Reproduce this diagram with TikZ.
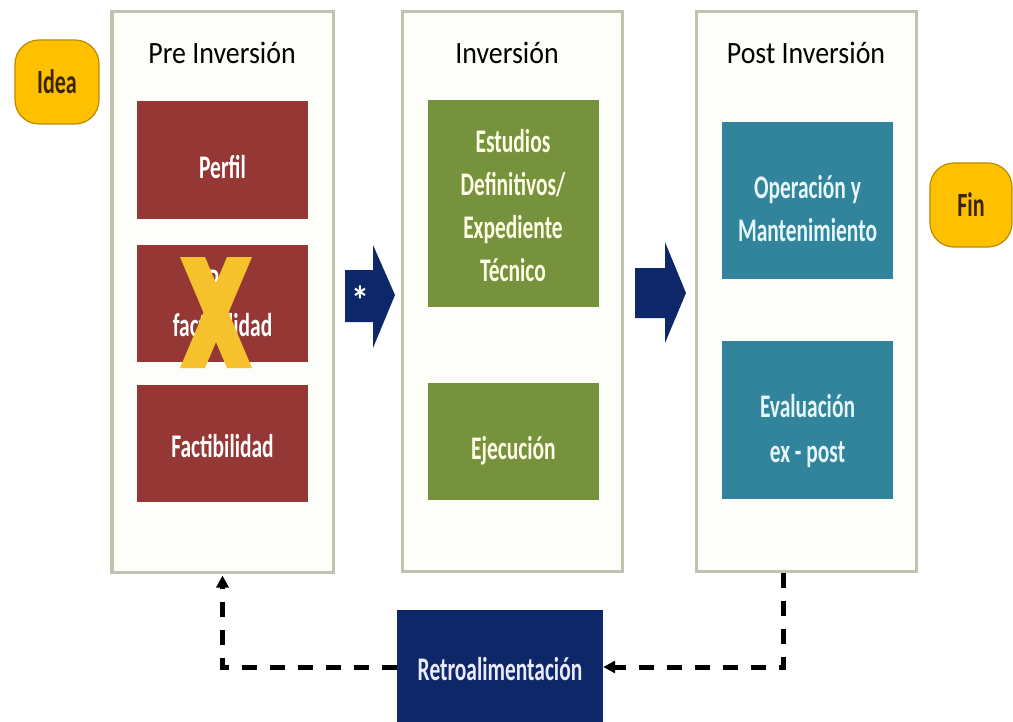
\documentclass[tikz,border=0pt]{standalone}
\usepackage{fontspec}
\setmainfont{Carlito}
\newfontfamily\narrowfont[FakeStretch=0.65]{Carlito}
\newfontfamily\titlefont[FakeStretch=0.9]{Carlito}
\usetikzlibrary{arrows.meta}
\usetikzlibrary{positioning}

\definecolor{panelgray}{HTML}{C3C2AE}
\definecolor{panelfill}{HTML}{FDFDF9}
\definecolor{redbox}{HTML}{953735}
\definecolor{greenbox}{HTML}{76923C}
\definecolor{tealbox}{HTML}{31849B}
\definecolor{navybox}{HTML}{0D2768}
\definecolor{goldbox}{HTML}{FFC000}
\definecolor{goldedge}{HTML}{B98B00}
\definecolor{crossgold}{HTML}{F5C12C}
\definecolor{browntext}{HTML}{3B2500}

% invisible strut that pushes a box label down
\newcommand{\boxstrut}[1]{\rule{0pt}{#1bp}}

\tikzstyle{phase_box} = [
    rectangle,
    draw=panelgray,
    line width=3bp,
    fill=panelfill,
    minimum width=220bp,
    minimum height=559bp
]
\tikzstyle{title_text} = [
    font=\titlefont\fontsize{31bp}{36bp}\selectfont,
    text=black,
    inner sep=0pt
]
\tikzstyle{stage_box} = [
    rectangle,
    font=\narrowfont\bfseries\fontsize{33bp}{43bp}\selectfont,
    align=center,
    inner sep=0pt,
    minimum width=171bp,
    minimum height=117bp
]
\tikzstyle{red_box} = [stage_box, fill=redbox, text=white]
\tikzstyle{green_box} = [stage_box, fill=greenbox, text=white!90!yellow]
\tikzstyle{teal_box} = [stage_box, fill=tealbox, text=white!90!cyan]
\tikzstyle{end_node} = [
    rectangle,
    rounded corners=24bp,
    draw=goldedge,
    line width=1.2bp,
    fill=goldbox,
    text=browntext,
    font=\narrowfont\bfseries\fontsize{34bp}{36bp}\selectfont,
    minimum width=84bp,
    minimum height=84bp
]
\tikzstyle{feedback} = [
    line width=5bp,
    dash pattern=on 15bp off 13bp,
    -{Triangle[length=12bp, width=12bp]}
]

\begin{document}
\begin{tikzpicture}[x=1bp, y=-1bp]
\useasboundingbox (0,0) rectangle (1013,722);

% phases
\node [phase_box, minimum width=221bp, minimum height=560bp] (pre) at (222.5,292) {};
\node [phase_box] (inv) at (512,291.5) {};
\node [phase_box] (post) at (806.5,291.5) {};

\node [title_text] (pre_title) at (222,53) {Pre Inversión};
\node [title_text] (inv_title) at (507,53) {Inversión};
\node [title_text] (post_title) at (806,53) {Post Inversión};

% pre inversion
\node [red_box] (perfil) at (222.5,160) {\boxstrut{38}Perfil};
\node [red_box, font=\narrowfont\bfseries\fontsize{33bp}{45bp}\selectfont]
    (prefact) at (222.5,303.5) {Pre\\factibilidad};
\node [red_box] (fact) at (222.5,443.5) {\boxstrut{29}Factibilidad};
\fill [crossgold] (180,257) -- (205,257) -- (252,368) -- (227,368) -- cycle;
\fill [crossgold] (227,257) -- (252,257) -- (205,368) -- (180,368) -- cycle;

% inversion
\node [green_box, minimum height=207bp] (estudios) at (513,203.5)
    {\boxstrut{27}Estudios\\Definitivos/\\Expediente\\Técnico};
\node [green_box] (ejecucion) at (513.5,441.5) {\boxstrut{41}Ejecución};

% post inversion
\node [teal_box, minimum height=157bp] (operacion) at (807.5,200.5)
    {\boxstrut{39}Operación y\\Mantenimiento};
\node [teal_box, minimum height=158bp,
    font=\narrowfont\bfseries\fontsize{33bp}{45bp}\selectfont]
    (evaluacion) at (807.5,420) {\boxstrut{45}Evaluación\\ex - post};

% start and end
\node [end_node] (idea) at (57,82) {Idea};
\node [end_node, minimum width=82bp] (fin) at (971,205) {Fin};

% block arrows
\fill [navybox] (345,270) -- (373,270) -- (373,245) -- (395,295)
    -- (373,348) -- (373,322) -- (345,322) -- cycle;
\node [text=white, font=\titlefont\bfseries\fontsize{40bp}{40bp}\selectfont, inner sep=0pt]
    (star) at (360,300) {*};
\fill [navybox] (635,268) -- (665,268) -- (665,242) -- (686,293)
    -- (665,343) -- (665,318) -- (635,318) -- cycle;

% feedback
\node [stage_box, fill=navybox, text=white!92!blue, minimum width=206bp,
    minimum height=114bp] (retro) at (500,667) {\boxstrut{27}Retroalimentación};
\draw [feedback, shorten >=2bp] (retro.west) -| (pre.south);
\draw [feedback] ([xshift=-23.5bp]post.south) |- (retro.east);
\end{tikzpicture}
\end{document}
